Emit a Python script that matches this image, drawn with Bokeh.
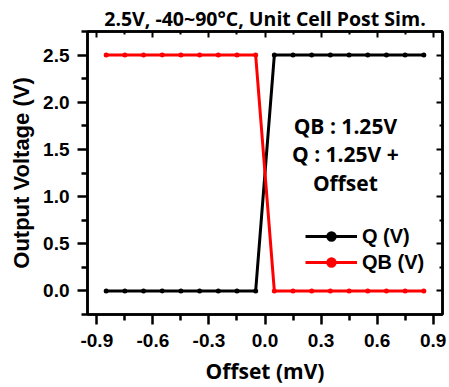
from bokeh.plotting import figure
from bokeh.models import (LinearAxis, FixedTicker, Range1d, Label, Legend, LegendItem,
                          CustomJSTickFormatter)
from bokeh.embed import file_html
from bokeh.resources import INLINE

# ---- data ----
offset_mv = [-0.85, -0.75, -0.65, -0.55, -0.45, -0.35, -0.25, -0.15, -0.05,
             0.05, 0.15, 0.25, 0.35, 0.45, 0.55, 0.65, 0.75, 0.85]
q_v = [0.0, 0.0, 0.0, 0.0, 0.0, 0.0, 0.0, 0.0, 0.0,
       2.5, 2.5, 2.5, 2.5, 2.5, 2.5, 2.5, 2.5, 2.5]
qb_v = [2.5, 2.5, 2.5, 2.5, 2.5, 2.5, 2.5, 2.5, 2.5,
        0.0, 0.0, 0.0, 0.0, 0.0, 0.0, 0.0, 0.0, 0.0]
x_ticks = [-0.9, -0.6, -0.3, 0.0, 0.3, 0.6, 0.9]
x_minor = [-0.75, -0.45, -0.15, 0.15, 0.45, 0.75]
y_ticks = [0.0, 0.5, 1.0, 1.5, 2.0, 2.5]
y_minor = [-0.25, 0.25, 0.75, 1.25, 1.75, 2.25, 2.75]
series_names = ["Q (V)", "QB (V)"]
title_text = "2.5V, -40~90°C, Unit Cell Post Sim."
x_label = "Offset (mV)"
y_label = "Output Voltage (V)"
note_lines = ["QB : 1.25V", "Q : 1.25V +", "Offset"]
note_x = 0.43
note_y = [1.75, 1.455, 1.14]

ARIAL = "Liberation Sans"
CALIBRI = "Open Sans"

one_decimal = CustomJSTickFormatter(code="return tick.toFixed(1);")
blank = CustomJSTickFormatter(code="return '';")

p = figure(width=449, height=387, output_backend="svg", toolbar_location=None,
           x_range=Range1d(-0.95, 0.95), y_range=Range1d(-0.25, 2.75),
           min_border_left=87, min_border_right=7, min_border_top=31,
           min_border_bottom=72)
p.xgrid.visible = False
p.ygrid.visible = False
p.outline_line_color = "black"
p.outline_line_width = 2.5
p.background_fill_color = "white"
p.border_fill_color = "white"

p.title.text = title_text
p.title.align = "center"
p.title.text_font = CALIBRI
p.title.text_font_size = "19.5px"
p.title.text_font_style = "bold"
p.title.text_color = "black"
p.title.standoff = 0
p.title.offset = 0

def style_main(ax, ticks, minor):
    ax.ticker = FixedTicker(ticks=ticks, minor_ticks=minor)
    ax.formatter = one_decimal
    ax.axis_line_width = 2.5
    ax.axis_line_color = "black"
    ax.major_tick_line_width = 2.5
    ax.minor_tick_line_width = 2.5
    ax.major_tick_out = 10
    ax.major_tick_in = 0
    ax.minor_tick_out = 6
    ax.minor_tick_in = 0
    ax.major_label_text_font = ARIAL
    ax.major_label_text_font_size = "19px"
    ax.major_label_text_font_style = "bold"
    ax.major_label_text_color = "black"
    ax.axis_label_text_color = "black"
    ax.axis_label_text_font_style = "bold"

xa = p.xaxis[0]
style_main(xa, x_ticks, x_minor)
xa.major_label_standoff = 9
xa.axis_label = x_label
xa.axis_label_text_font = CALIBRI
xa.axis_label_text_font_size = "21px"
xa.axis_label_standoff = 7

ya = p.yaxis[0]
style_main(ya, y_ticks, y_minor)
ya.major_label_standoff = 8
ya.axis_label = y_label
ya.axis_label_text_font = ARIAL
ya.axis_label_text_font_size = "22px"
ya.axis_label_standoff = 6

def mirror(ax, ticks, minor):
    ax.ticker = FixedTicker(ticks=ticks, minor_ticks=minor)
    ax.formatter = blank
    ax.axis_line_width = 2.5
    ax.axis_line_color = "black"
    ax.major_tick_line_width = 2
    ax.minor_tick_line_width = 2
    ax.major_tick_in = 6
    ax.major_tick_out = 0
    ax.minor_tick_in = 3
    ax.minor_tick_out = 0
    ax.major_label_standoff = 0

top = LinearAxis()
mirror(top, x_ticks, x_minor)
p.add_layout(top, "above")
right = LinearAxis()
mirror(right, y_ticks, y_minor)
p.add_layout(right, "right")

l_q = p.line(offset_mv, q_v, line_color="black", line_width=3)
s_q = p.scatter(offset_mv, q_v, size=5, fill_color="black", line_width=0)
l_qb = p.line(offset_mv, qb_v, line_color="#ff0000", line_width=3)
s_qb = p.scatter(offset_mv, qb_v, size=5, fill_color="#ff0000", line_width=0)

legend = Legend(items=[LegendItem(label=series_names[0], renderers=[l_q, s_q]),
                       LegendItem(label=series_names[1], renderers=[l_qb, s_qb])],
                location=(218, 39), padding=0, margin=0, spacing=0,
                glyph_width=52, glyph_height=26, label_height=26,
                label_standoff=5,
                label_text_font=ARIAL, label_text_font_size="20px",
                label_text_font_style="bold", label_text_color="black",
                background_fill_alpha=0, border_line_alpha=0)
p.add_layout(legend, "center")

for t, yy in zip(note_lines, note_y):
    p.add_layout(Label(x=note_x, y=yy, text=t, text_align="center",
                       text_baseline="middle", text_font=CALIBRI,
                       text_font_size="21px", text_font_style="bold",
                       text_color="black"))

open("out.html", "w").write(file_html(p, INLINE))
